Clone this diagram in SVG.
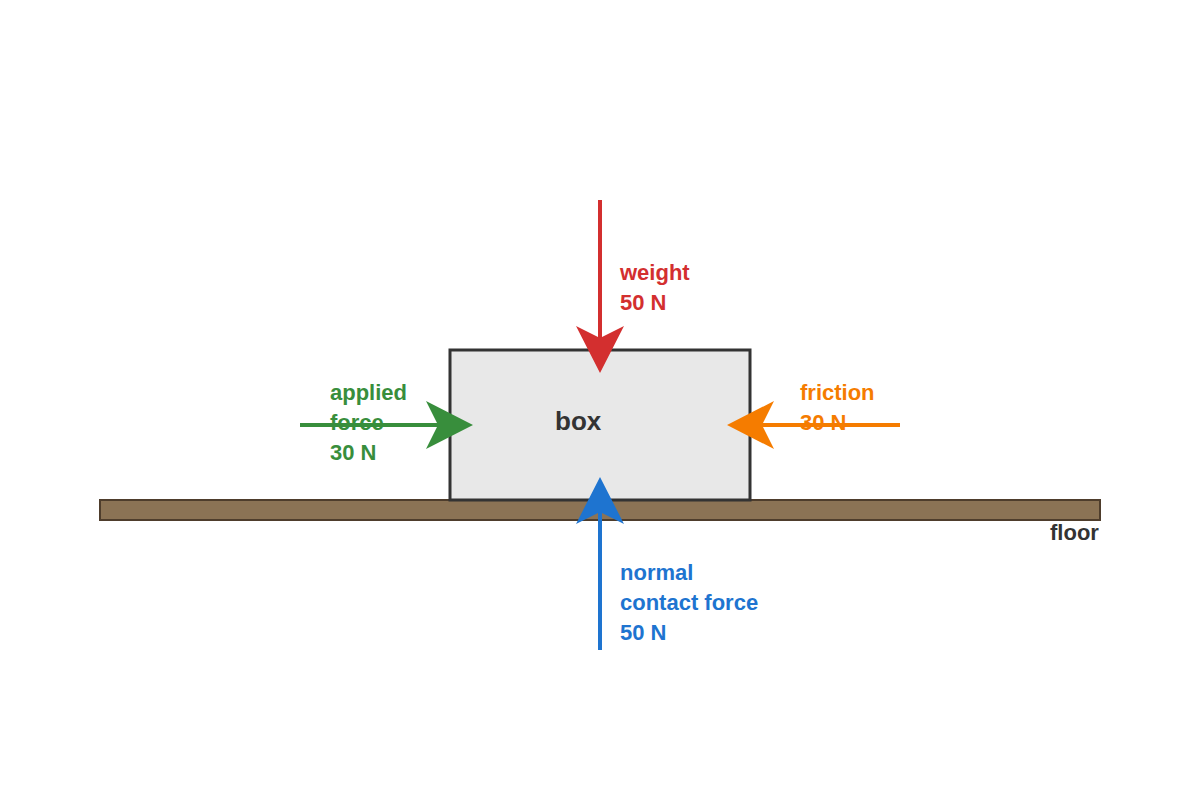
<svg xmlns="http://www.w3.org/2000/svg" width="1200" height="800" viewBox="0 0 1200 800">
<style>
text{font-family:"Liberation Sans",Arial,sans-serif;font-weight:bold;font-size:22px}
.ln{stroke-width:4;fill:none}
</style>
<rect width="1200" height="800" fill="#fff"/>
<g id="floor"><rect x="100" y="500" width="1000" height="20" fill="#8b7355" stroke="#4e3d2c" stroke-width="2"/>
<text x="1050" y="540" fill="#333">floor</text></g>
<g id="box"><rect x="450" y="350" width="300" height="150" fill="#e8e8e8" stroke="#333" stroke-width="3"/>
<text x="555" y="430" fill="#333" font-size="26" style="font-size:26px">box</text></g>
<g id="connectors">
<g id="weight"><line class="ln" x1="600" y1="200" x2="600" y2="345" stroke="#d32f2f"/><path d="M600 373 L576 326 L600 338 L624 326 Z" fill="#d32f2f"/></g>
<g id="normal"><line class="ln" x1="600" y1="650" x2="600" y2="505" stroke="#1e74d0"/><path d="M600 477 L576 524 L600 512 L624 524 Z" fill="#1e74d0"/></g>
<g id="applied"><line class="ln" x1="300" y1="425" x2="445" y2="425" stroke="#388e3c"/><path d="M473 425 L426 401 L438 425 L426 449 Z" fill="#388e3c"/></g>
<g id="friction"><line class="ln" x1="900" y1="425" x2="755" y2="425" stroke="#f57c00"/><path d="M727 425 L774 401 L762 425 L774 449 Z" fill="#f57c00"/></g>
</g>
<g id="labels">
<text fill="#d32f2f"><tspan x="620" y="280">weight</tspan><tspan x="620" y="310">50 N</tspan></text>
<text fill="#388e3c"><tspan x="330" y="400">applied</tspan><tspan x="330" y="430">force</tspan><tspan x="330" y="460">30 N</tspan></text>
<text fill="#f57c00"><tspan x="800" y="400">friction</tspan><tspan x="800" y="430">30 N</tspan></text>
<text fill="#1e74d0"><tspan x="620" y="580">normal</tspan><tspan x="620" y="610">contact force</tspan><tspan x="620" y="640">50 N</tspan></text>
</g>
</svg>
